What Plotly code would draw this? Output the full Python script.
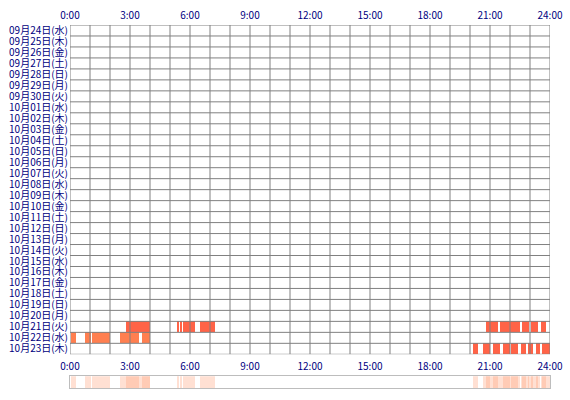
import plotly.graph_objects as go

# ---- data ----
day_labels = [
    "09月24日(水)", "09月25日(木)", "09月26日(金)", "09月27日(土)", "09月28日(日)",
    "09月29日(月)", "09月30日(火)", "10月01日(水)", "10月02日(木)", "10月03日(金)",
    "10月04日(土)", "10月05日(日)", "10月06日(月)", "10月07日(火)", "10月08日(水)",
    "10月09日(木)", "10月10日(金)", "10月11日(土)", "10月12日(日)", "10月13日(月)",
    "10月14日(火)", "10月15日(水)", "10月16日(木)", "10月17日(金)", "10月18日(土)",
    "10月19日(日)", "10月20日(月)", "10月21日(火)", "10月22日(水)", "10月23日(木)",
]
hour_tickvals = [0, 3, 6, 9, 12, 15, 18, 21, 24]
hour_ticktext = ["0:00", "3:00", "6:00", "9:00", "12:00", "15:00", "18:00", "21:00", "24:00"]

# activity segments (start hour, end hour) per day
day21_start = [2.82, 5.38, 5.48, 5.66, 6.49, 20.78, 21.52, 22.62, 23.07, 23.57]
day21_end = [3.99, 5.43, 5.60, 6.24, 7.24, 21.38, 22.49, 22.97, 23.42, 23.78]
day22_start = [0.03, 0.22, 0.73, 1.08, 2.49, 3.59]
day22_end = [0.18, 0.27, 1.03, 1.99, 3.44, 3.99]
day23_start = [20.15, 20.65, 21.15, 21.65, 22.07, 22.53, 22.90, 23.32, 23.60]
day23_end = [20.40, 21.00, 21.48, 22.00, 22.40, 22.78, 23.15, 23.52, 23.99]

activity = [
    ("10月21日(火)", day21_start, day21_end, "#FF6347"),
    ("10月22日(水)", day22_start, day22_end, "#FF7F50"),
    ("10月23日(木)", day23_start, day23_end, "#FF6347"),
]

FONT = dict(family="Noto Sans CJK JP, Noto Sans, sans-serif", size=10, color="#000080")
XFONT = dict(family="Noto Sans CJK JP, Noto Sans, sans-serif", size=10, color="#000080")
GRID = "#808080"

fig = go.Figure()

n_days = len(day_labels)
for label, starts, ends, color in activity:
    row = day_labels.index(label)
    fig.add_trace(go.Bar(
        orientation="h",
        y=[row] * len(starts),
        base=starts,
        x=[e - s for s, e in zip(starts, ends)],
        width=1.0,
        marker=dict(color=color, line=dict(width=0)),
        xaxis="x", yaxis="y",
        showlegend=False, hoverinfo="skip",
    ))
    # summary strip
    fig.add_trace(go.Bar(
        orientation="h",
        y=[0.5] * len(starts),
        base=starts,
        x=[e - s for s, e in zip(starts, ends)],
        width=1.0,
        marker=dict(color="#FFA07A", line=dict(width=0)),
        opacity=0.33,
        xaxis="x2", yaxis="y2",
        showlegend=False, hoverinfo="skip",
    ))

# grid drawn on top of the bars
gx, gy = [], []
for h in range(25):
    gx += [h, h, None]
    gy += [-0.5, n_days - 0.5, None]
for k in range(n_days + 1):
    gx += [0, 24, None]
    gy += [k - 0.5, k - 0.5, None]
fig.add_trace(go.Scatter(
    x=gx, y=gy, mode="lines", line=dict(color=GRID, width=1),
    xaxis="x", yaxis="y", showlegend=False, hoverinfo="skip", cliponaxis=False,
))

main_bottom = (388 - 354.3) / 363
strip_top = (388 - 376.3) / 363

fig.update_layout(
    width=570, height=400,
    margin=dict(l=70, r=20, t=25, b=12),
    paper_bgcolor="white", plot_bgcolor="white",
    barmode="overlay", bargap=0,
    xaxis=dict(domain=[0, 1], range=[0, 24], side="top", anchor="y", automargin=False,
               tickvals=hour_tickvals, ticktext=hour_ticktext, tickfont=XFONT,
               showgrid=False, zeroline=False, showline=False, ticks="", ticklabelstandoff=3),
    yaxis=dict(domain=[main_bottom, 1], range=[n_days - 0.5, -0.5], automargin=False,
               tickvals=list(range(n_days)), ticktext=day_labels, tickfont=FONT,
               showgrid=False, zeroline=False, showline=False, ticks="", ticklabelstandoff=1),
    xaxis2=dict(domain=[0, 1], range=[0, 24], side="top", anchor="y2", automargin=False,
                tickvals=hour_tickvals, ticktext=hour_ticktext, tickfont=XFONT,
                showgrid=False, zeroline=False, showline=True, mirror=True,
                linecolor="#BDBDBD", linewidth=1, ticks="", ticklabelstandoff=1),
    yaxis2=dict(domain=[0, strip_top], range=[0, 1], anchor="x2", automargin=False,
                showticklabels=False, showgrid=False, zeroline=False,
                showline=True, mirror=True, linecolor="#BDBDBD", linewidth=1, ticks=""),
)

fig.write_html("out.html", config={"displayModeBar": False},
               post_script="document.body.style.margin='0';")
